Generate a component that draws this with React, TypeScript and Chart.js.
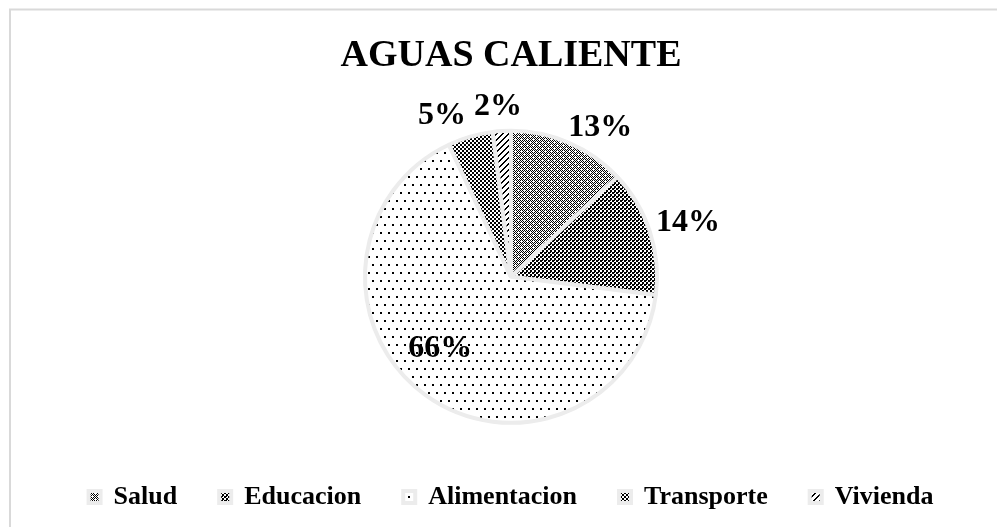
import React, { useEffect, useRef } from "react";
import { Chart, registerables } from "chart.js";

Chart.register(...registerables);

const TITLE = "AGUAS CALIENTE";
const categories = ["Salud", "Educacion", "Alimentacion", "Transporte", "Vivienda"];
const values = [13, 14, 66, 5, 2];
const percentLabels = ["13%", "14%", "66%", "5%", "2%"];

// label placement: [radius factor, angle nudge in degrees]
const labelPlacement: [number, number][] = [
  [1.19, 7.5],
  [1.267, 1.0],
  [0.69, 8.6],
  [1.2, -7],
  [1.168, -0.8],
];

const SERIF = "'Liberation Serif', 'Times New Roman', serif";

function makePattern(w: number, h: number, draw: (c: CanvasRenderingContext2D) => void) {
  const c = document.createElement("canvas");
  c.width = w;
  c.height = h;
  const x = c.getContext("2d")!;
  x.fillStyle = "#ffffff";
  x.fillRect(0, 0, w, h);
  x.fillStyle = "#000000";
  draw(x);
  return x.createPattern(c, "repeat")!;
}

function buildPatterns() {
  // Salud: checker with occasional holes
  const salud = makePattern(6, 6, (x) => {
    for (let r = 0; r < 6; r++)
      for (let c = 0; c < 6; c++) {
        if ((r + c) % 2 === 0 && !(r === 4 && c === 2) && !(r === 1 && c === 5)) x.fillRect(c, r, 1, 1);
      }
  });
  // Educacion: dense checker (2px cells, slightly heavy)
  const edu = makePattern(4, 4, (x) => {
    x.fillRect(0, 0, 2, 2);
    x.fillRect(2, 2, 2, 2);
    x.fillRect(2, 0, 1, 1);
  });
  // Alimentacion: sparse dots
  const alim = makePattern(8, 16, (x) => {
    x.fillRect(0, 0, 2, 2);
    x.fillRect(4, 8, 2, 2);
  });
  // Transporte: dense checker
  const trans = makePattern(4, 4, (x) => {
    x.fillRect(0, 0, 2, 2);
    x.fillRect(2, 2, 2, 2);
  });
  // Vivienda: diagonal stripes
  const viv = makePattern(6, 6, (x) => {
    for (let i = 0; i < 6; i++) {
      x.fillRect(i, 5 - i, 1, 1);
      x.fillRect((i + 1) % 6, 5 - i, 1, 1);
    }
  });
  return [salud, edu, alim, trans, viv];
}

const framePlugin = {
  id: "frame",
  beforeDraw(chart: any) {
    const ctx = chart.ctx;
    ctx.save();
    ctx.fillStyle = "#ffffff";
    ctx.fillRect(0, 0, chart.width, chart.height);
    ctx.strokeStyle = "#d9d9d9";
    ctx.lineWidth = 2;
    ctx.beginPath();
    ctx.moveTo(10, chart.height);
    ctx.lineTo(10, 9.5);
    ctx.lineTo(chart.width, 9.5);
    ctx.stroke();
    ctx.restore();
  },
};

const labelPlugin = {
  id: "pctLabels",
  afterDatasetsDraw(chart: any) {
    const ctx = chart.ctx;
    const meta = chart.getDatasetMeta(0);
    ctx.save();
    ctx.font = `bold 32px ${SERIF}`;
    ctx.fillStyle = "#000000";
    ctx.textAlign = "center";
    ctx.textBaseline = "middle";
    meta.data.forEach((arc: any, i: number) => {
      const p = arc.getProps(["x", "y", "startAngle", "endAngle", "outerRadius"], true);
      const [rf, nudge] = labelPlacement[i];
      const mid = (p.startAngle + p.endAngle) / 2 + (nudge * Math.PI) / 180;
      const r = p.outerRadius * rf;
      ctx.fillText(percentLabels[i], p.x + Math.cos(mid) * r, p.y + Math.sin(mid) * r);
    });
    ctx.restore();
  },
};

export default function App() {
  const ref = useRef<HTMLCanvasElement>(null);
  useEffect(() => {
    if (!ref.current) return;
    const patterns = buildPatterns();
    const chart = new Chart(ref.current, {
      type: "pie",
      data: {
        labels: categories,
        datasets: [
          {
            data: values,
            backgroundColor: patterns as any,
            borderColor: "#ececec",
            borderWidth: 4,
          },
        ],
      },
      options: {
        animation: false,
        responsive: false,
        radius: 146,
        layout: { padding: { top: 10, bottom: 7, left: 25, right: 0 } },
        plugins: {
          title: {
            display: true,
            text: TITLE,
            color: "#000000",
            font: { family: SERIF, size: 38, weight: "bold" },
            padding: { top: 23, bottom: 33 },
          },
          legend: {
            position: "bottom",
            labels: {
              color: "#000000",
              font: { family: SERIF, size: 26, weight: "bold" },
              boxWidth: 12,
              boxHeight: 12,
              padding: 42,
            },
          },
          tooltip: { enabled: false },
        },
      } as any,
      plugins: [framePlugin, labelPlugin],
    });
    return () => chart.destroy();
  }, []);
  return (
    <div style={{ position: "fixed", left: 0, top: 0, width: 997, height: 527, overflow: "hidden", background: "#fff" }}>
      <canvas ref={ref} width={997} height={527} style={{ display: "block" }} />
    </div>
  );
}
